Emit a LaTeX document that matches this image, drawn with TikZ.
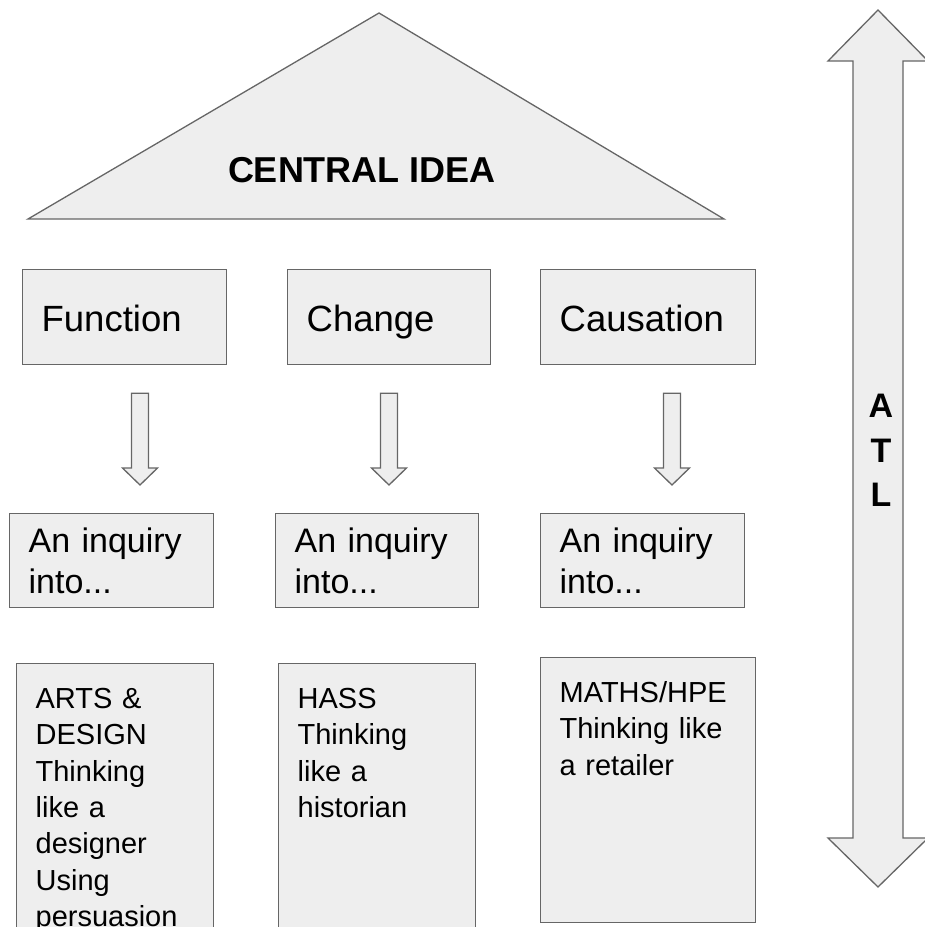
\documentclass[tikz,border=0pt]{standalone}
\usepackage{fontspec}
\setmainfont{Liberation Sans}
\usetikzlibrary{calc}

\definecolor{boxfill}{HTML}{EEEEEE}
\definecolor{linegray}{HTML}{666666}

% hollow down arrow from the bottom of #1 to the top of #2, at x = #3
\newcommand{\flowarrow}[3]{%
  \draw[greyfill] let \p1=(#1.south), \p2=(#2.north) in
    (#3pt-8.5pt,\y1-28pt) -- (#3pt+8.5pt,\y1-28pt) -- (#3pt+8.5pt,\y2+45pt)
    -- (#3pt+17.5pt,\y2+45pt) -- (#3pt,\y2+28pt) -- (#3pt-17.5pt,\y2+45pt)
    -- (#3pt-8.5pt,\y2+45pt) -- cycle;}

\begin{document}
\begin{tikzpicture}[x=1pt, y=-1pt,
    greyfill/.style={draw=linegray, fill=boxfill, line width=1.3pt, line join=miter},
    card/.style={greyfill, anchor=north west, inner xsep=19pt, inner ysep=0pt, align=left},
    concept/.style={card, font=\fontsize{36.5}{44}\selectfont, text height=62pt, text depth=33pt},
    inquiry/.style={card, font=\fontsize{34}{41}\selectfont, text height=39pt, text depth=55pt},
    subject/.style={card, font=\fontsize{29}{36.3}\selectfont, text height=45pt}]

  \useasboundingbox (0,0) rectangle (925,927);
  \clip (0,0) rectangle (925,927);

  % roof with the central idea
  \draw[greyfill] (28,219) -- (379,13) -- (724,219) -- cycle;
  \node[inner sep=0pt, anchor=base, font=\bfseries\fontsize{36}{43}\selectfont] (idea) at (362,182) {CENTRAL IDEA};

  % key concepts
  \node[concept, text width=166pt] (function) at (22,269) {Function};
  \node[concept, text width=165pt] (change) at (287,269) {Change};
  \node[concept, text width=177pt] (causation) at (540,269) {Causation};

  % lines of inquiry
  \node[inquiry, text width=166pt] (inqfunction) at (9,513) {An inquiry\\into...};
  \node[inquiry, text width=165pt] (inqchange) at (275,513) {An inquiry\\into...};
  \node[inquiry, text width=166pt] (inqcausation) at (540,513) {An inquiry\\into...};

  \flowarrow{function}{inqfunction}{140}
  \flowarrow{change}{inqchange}{389}
  \flowarrow{causation}{inqcausation}{672}

  % subject areas
  \node[subject, text width=159pt, text depth=240pt] (arts) at (16,663)
    {ARTS \&\\DESIGN\\Thinking\\like a\\designer\\Using\\persuasion};
  \node[subject, text width=159pt, text depth=240pt] (hass) at (278,663)
    {HASS\\Thinking\\like a\\historian};
  \node[subject, text width=177pt, text depth=220pt] (maths) at (540,657)
    {MATHS/HPE\\Thinking like\\a retailer};

  % approaches to learning, both ways
  \draw[greyfill] (878,10) -- (928,61) -- (903,61) -- (903,838) -- (928,838) -- (878,887)
    -- (828,838) -- (853,838) -- (853,61) -- (828,61) -- cycle;
  \node[inner sep=0pt, align=center, font=\bfseries\fontsize{34}{44.5}\selectfont] (atl) at (881,450.5) {A\\T\\L};
\end{tikzpicture}
\end{document}
